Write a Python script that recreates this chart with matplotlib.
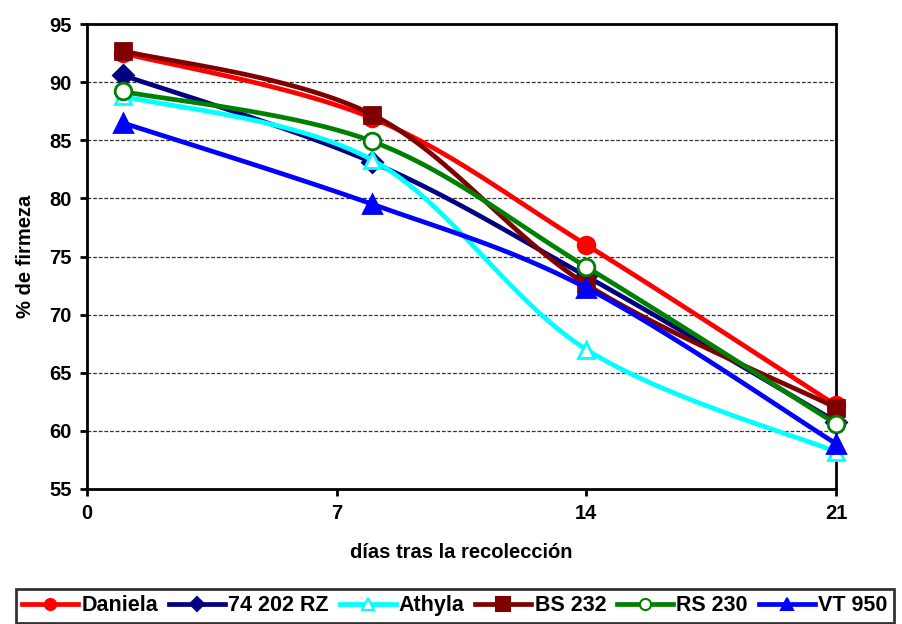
import numpy as np
import matplotlib
matplotlib.use("Agg")
from matplotlib import pyplot as plt
from matplotlib.lines import Line2D

"""Data"""
days = [1, 8, 14, 21]
series_names = ["Daniela", "74 202 RZ", "Athyla", "BS 232", "RS 230", "VT 950"]
daniela = [92.5, 86.9, 76.0, 62.2]
rz_74202 = [90.6, 83.1, 73.3, 60.8]
athyla = [88.8, 83.3, 67.0, 58.2]
bs232 = [92.7, 87.2, 72.6, 62.0]
rs230 = [89.2, 84.9, 74.1, 60.6]
vt950 = [86.5, 79.5, 72.3, 58.9]
x_ticks = [0, 7, 14, 21]
y_ticks = [55, 60, 65, 70, 75, 80, 85, 90, 95]

colors = ["#FF0000", "#000080", "#00FFFF", "#800000", "#008000", "#0000FF"]
markers = ["o", "D", "^", "s", "o", "^"]
faces = ["#FF0000", "#000080", "white", "#800000", "white", "#0000FF"]
msizes = [12, 10, 12, 12, 12, 12.5]
leg_msizes = [8, 7, 8, 10.5, 8, 8.5]


def smooth(x, y, n=40):
    """Excel-like smoothed line (Catmull-Rom as cubic Bezier)"""
    p = np.column_stack([x, y]).astype(float)
    p = np.vstack([p[0], p, p[-1]])
    out = []
    for i in range(1, len(p) - 2):
        p0, p1, p2, p3 = p[i - 1], p[i], p[i + 1], p[i + 2]
        c1 = p1 + (p2 - p0) / 6
        c2 = p2 - (p3 - p1) / 6
        t = np.linspace(0, 1, n)[:, None]
        b = (1 - t) ** 3 * p1 + 3 * (1 - t) ** 2 * t * c1 + 3 * (1 - t) * t ** 2 * c2 + t ** 3 * p2
        out.append(b if i == 1 else b[1:])
    b = np.vstack(out)
    return b[:, 0], b[:, 1]


plt.rcParams['font.family'] = ['Liberation Sans', 'DejaVu Sans']
plt.rcParams['font.weight'] = 'bold'

fig = plt.figure(figsize=(9.02, 6.24), dpi=100)
ax = fig.add_axes([87 / 902, 1 - 489 / 624, (836 - 87) / 902, (489 - 24) / 624])

handles = []
all_vals = [daniela, rz_74202, athyla, bs232, rs230, vt950]
for k, vals in enumerate(all_vals):
    sx, sy = smooth(days, vals)
    ax.plot(sx, sy, color=colors[k], lw=3.4, zorder=3 + k, solid_capstyle='round')
    ax.plot(days, vals, ls='none', marker=markers[k], ms=msizes[k], mfc=faces[k],
            mec=colors[k], mew=2, zorder=3 + k, clip_on=False)
    handles.append(Line2D([], [], color=colors[k], lw=3.4, marker=markers[k],
                          ms=leg_msizes[k], mfc=faces[k], mec=colors[k], mew=1.5))

ax.set_xlim(0, 21)
ax.set_ylim(55, 95)
ax.set_xticks(x_ticks)
ax.set_yticks(y_ticks)
for yv in y_ticks[1:-1]:
    ax.axhline(yv, color='#333333', lw=0.9, ls=(0, (3, 1.5)), zorder=1)

for s in ax.spines.values():
    s.set_linewidth(2)
ax.tick_params(direction='out', length=5, width=2, labelsize=14.5, pad=6)
ax.set_xlabel("días tras la recolección", fontsize=14.5, fontweight='bold', labelpad=14)
ax.set_ylabel("% de firmeza", fontsize=14.5, fontweight='bold', labelpad=10)

leg = fig.legend(handles, series_names, loc='upper left', bbox_to_anchor=(16 / 902, 1 - 589 / 624),
                 ncol=6, frameon=True, fancybox=False, edgecolor='black',
                 handlelength=2.6, handletextpad=0.15, columnspacing=0.5, borderpad=0.3,
                 borderaxespad=0, prop={'weight': 'bold', 'size': 15.5})
leg.get_frame().set_linewidth(2)

fig.savefig("out.png", dpi=100)
